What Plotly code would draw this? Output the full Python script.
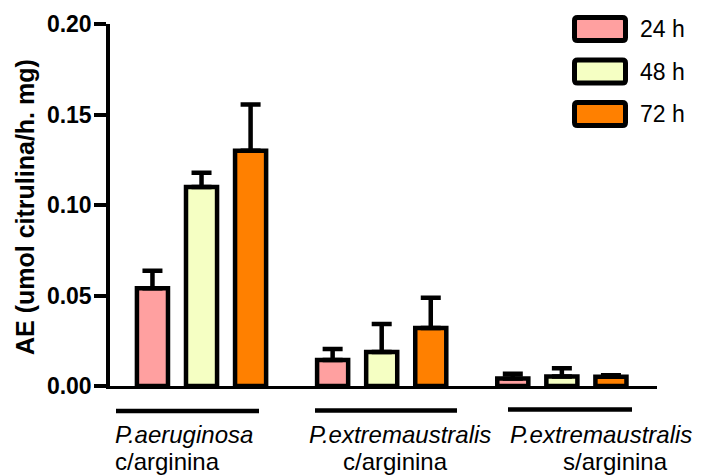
import plotly.graph_objects as go

# Data
groups = ["P.aeruginosa c/arginina", "P.extremaustralis c/arginina", "P.extremaustralis s/arginina"]
series_names = ["24 h", "48 h", "72 h"]
values_24h = [0.054, 0.0144, 0.0041]
values_48h = [0.110, 0.0188, 0.0053]
values_72h = [0.130, 0.0320, 0.0051]
err_24h = [0.0097, 0.0060, 0.0026]
err_48h = [0.0078, 0.0155, 0.0045]
err_72h = [0.0255, 0.0168, 0.0008]
label_line1 = ["P.aeruginosa", "P.extremaustralis", "P.extremaustralis"]
label_line2 = ["c/arginina", "c/arginina", "s/arginina"]
y_ticks = [0.00, 0.05, 0.10, 0.15, 0.20]

colors = ["#FFA0A0", "#F5FFC3", "#FF8000"]
FONT = "Liberation Sans, Arial, sans-serif"

# Figure geometry (pixels)
W, H = 701, 475
ML, MR, MT, MB = 110, 44, 24, 89
PW, PH = W - ML - MR, H - MT - MB


def px(x):
    return (x - ML) / PW


def py(y):
    return (H - MB - y) / PH


fig = go.Figure()
x_pos = [0, 1, 2]
for name, vals, errs, col in zip(series_names,
                                 [values_24h, values_48h, values_72h],
                                 [err_24h, err_48h, err_72h], colors):
    fig.add_trace(go.Bar(
        x=x_pos, y=vals, name=name,
        marker=dict(color=col, line=dict(color="black", width=4.5)),
        error_y=dict(type="data", symmetric=False, array=errs,
                     arrayminus=[0] * len(errs), color="black",
                     thickness=4.5, width=10),
        showlegend=False,
    ))

shapes = []
annotations = []

# Group underlines below the x axis
underlines = [(116, 259, 411), (315, 457, 410.5), (508, 632, 409.5)]
for x0, x1, yy in underlines:
    shapes.append(dict(type="line", xref="paper", yref="paper",
                       x0=px(x0), x1=px(x1), y0=py(yy), y1=py(yy),
                       line=dict(color="black", width=4.5)))

# Group labels (two lines each)
line1_pos = [(113, "left"), (400, "center"), (601, "center")]
line2_pos = [(113, "left"), (395, "center"), (615, "center")]
for i in range(3):
    annotations.append(dict(text="<i>%s</i>" % label_line1[i], xref="paper", yref="paper",
                            x=px(line1_pos[i][0]), y=py(434), xanchor=line1_pos[i][1],
                            yanchor="middle", showarrow=False,
                            font=dict(family=FONT, size=24, color="black")))
    annotations.append(dict(text=label_line2[i], xref="paper", yref="paper",
                            x=px(line2_pos[i][0]), y=py(461.5), xanchor=line2_pos[i][1],
                            yanchor="middle", showarrow=False,
                            font=dict(family=FONT, size=24, color="black")))


# Legend: rounded boxes with labels
def rounded_rect(x0, y0, x1, y1, r):
    rx, ry = r / PW, r / PH
    X0, X1 = px(x0), px(x1)
    Y0, Y1 = py(y0), py(y1)  # Y0 top, Y1 bottom in paper
    return (f"M {X0 + rx},{Y0} L {X1 - rx},{Y0} Q {X1},{Y0} {X1},{Y0 - ry} "
            f"L {X1},{Y1 + ry} Q {X1},{Y1} {X1 - rx},{Y1} "
            f"L {X0 + rx},{Y1} Q {X0},{Y1} {X0},{Y1 + ry} "
            f"L {X0},{Y0 - ry} Q {X0},{Y0} {X0 + rx},{Y0} Z")


legend_centers = [29, 71.5, 114]
for name, col, cy in zip(series_names, colors, legend_centers):
    shapes.append(dict(type="path", xref="paper", yref="paper",
                       path=rounded_rect(574.5, cy - 11.5, 625.5, cy + 11.5, 3),
                       fillcolor=col, line=dict(color="black", width=5)))
    annotations.append(dict(text=name, xref="paper", yref="paper",
                            x=px(638), y=py(cy), xanchor="left", yanchor="middle",
                            showarrow=False,
                            font=dict(family=FONT, size=23, color="black")))

# Y axis title
annotations.append(dict(text="<b>AE (umol citrulina/h. mg)</b>", xref="paper", yref="paper",
                        x=px(25), y=py(207), xanchor="center", yanchor="middle",
                        textangle=-90, showarrow=False,
                        font=dict(family=FONT, size=25, color="black")))

fig.update_layout(
    width=W, height=H,
    margin=dict(l=ML, r=MR, t=MT, b=MB),
    paper_bgcolor="white", plot_bgcolor="white",
    barmode="group", bargap=0.183, bargroupgap=0.367,
    shapes=shapes, annotations=annotations,
    xaxis=dict(range=[-0.508, 2.528], showticklabels=False, ticks="",
               showgrid=False, zeroline=False, showline=True,
               linecolor="black", linewidth=2.5),
    yaxis=dict(range=[0, 0.2], tickvals=y_ticks, tickformat=".2f",
               ticks="outside", ticklen=12, tickwidth=3.5, tickcolor="black",
               showgrid=False, zeroline=False, showline=True,
               linecolor="black", linewidth=3.5, ticklabelstandoff=-2,
               tickfont=dict(family=FONT, size=23, color="black", weight="bold")),
)

fig.write_html("out.html")
